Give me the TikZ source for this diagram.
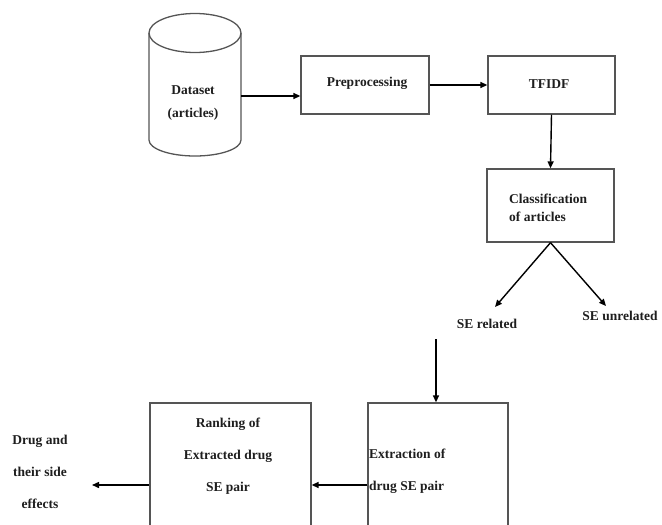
\documentclass[tikz,border=0pt]{standalone}
\usepackage{fontspec}
\setmainfont{Liberation Serif}
\usetikzlibrary{arrows.meta}

\definecolor{rahmen}{RGB}{85, 85, 85}
\definecolor{schrift}{RGB}{30, 30, 30}

\tikzset{
	kasten/.style={draw=rahmen, line width=1.3pt, inner sep=0pt},
	pfeil/.style={draw=black, line width=1.4pt, -{Triangle[length=7pt,width=6pt]}},
	txt/.style={text=schrift, font=\bfseries\fontsize{13.5}{16}\selectfont, inner sep=0pt}
}

\begin{document}
\begin{tikzpicture}[x=1pt, y=-1pt] % 1 Einheit = 1 Pixel der Vorlage

		\useasboundingbox (0,0) rectangle (662,525);

		% Datenbank (Zylinder)
		\draw[draw=rahmen, line width=1.3pt] (195,33) ellipse [x radius=46pt, y radius=19.5pt];
		\draw[draw=rahmen, line width=1.3pt] (149,33) -- (149,140)
			arc [start angle=180, end angle=360, x radius=46pt, y radius=16pt] -- (241,33);
		\node[txt, align=center, text depth=0pt] (dataset) at (193,101.5) {Dataset\\[7pt](articles)};
		\coordinate (dsout) at (241,96);

		% Obere Kästen
		\node[kasten, minimum width=128, minimum height=58] (pre) at (365,85) {};
		\node[txt] (pretxt) at (367,83) {Preprocessing};
		\node[kasten, minimum width=127, minimum height=58] (tfidf) at (551.5,85) {};
		\node[txt] (tfidftxt) at (549,84) {TFIDF};

		\draw[pfeil] (dsout) -- (dsout -| pre.west);
		\draw[pfeil] (pre.east) -- (tfidf.west);

		% Klassifikation
		\node[kasten, minimum width=127, minimum height=73] (class) at (550.5,205.5) {};
		\node[txt, align=left, anchor=west] (classtxt) at (509,208) {Classification\\[2pt]of articles};
		\draw[pfeil] (tfidf.south) -- (class.north);

		% Verzweigung
		\coordinate (relend) at (495,307);
		\coordinate (unrelend) at (606,306);
		\draw[pfeil] (class.south) -- (relend);
		\draw[pfeil] (class.south) -- (unrelend);
		\node[txt] (serel) at (487,324) {SE related};
		\node[txt] (seunrel) at (620,316) {SE unrelated};

		% Untere Kästen (laufen unten aus dem Bild)
		\node[kasten, minimum width=140, minimum height=157] (extr) at (438,481.5) {};
		\node[txt, align=left, anchor=west] (extrtxt) at (369,471) {Extraction of\\[16pt]drug SE pair};
		\node[kasten, minimum width=161, minimum height=157] (rank) at (230.5,481.5) {};
		\node[txt, align=center] (ranktxt) at (228,456) {Ranking of\\[16pt]Extracted drug\\[16pt]SE pair};

		\coordinate (sedown) at (436,339);
		\draw[pfeil] (sedown) -- (sedown |- extr.north);

		\coordinate (paary) at (0,485);
		\coordinate (outend) at (92,485);
		\draw[pfeil] (extr.west |- paary) -- (rank.east |- paary);
		\draw[pfeil] (rank.west |- paary) -- (outend);

		% Ergebnis
		\node[txt, align=center] (ergebnis) at (40,472) {Drug and\\[16pt]their side\\[16pt]effects};

\end{tikzpicture}
\end{document}
